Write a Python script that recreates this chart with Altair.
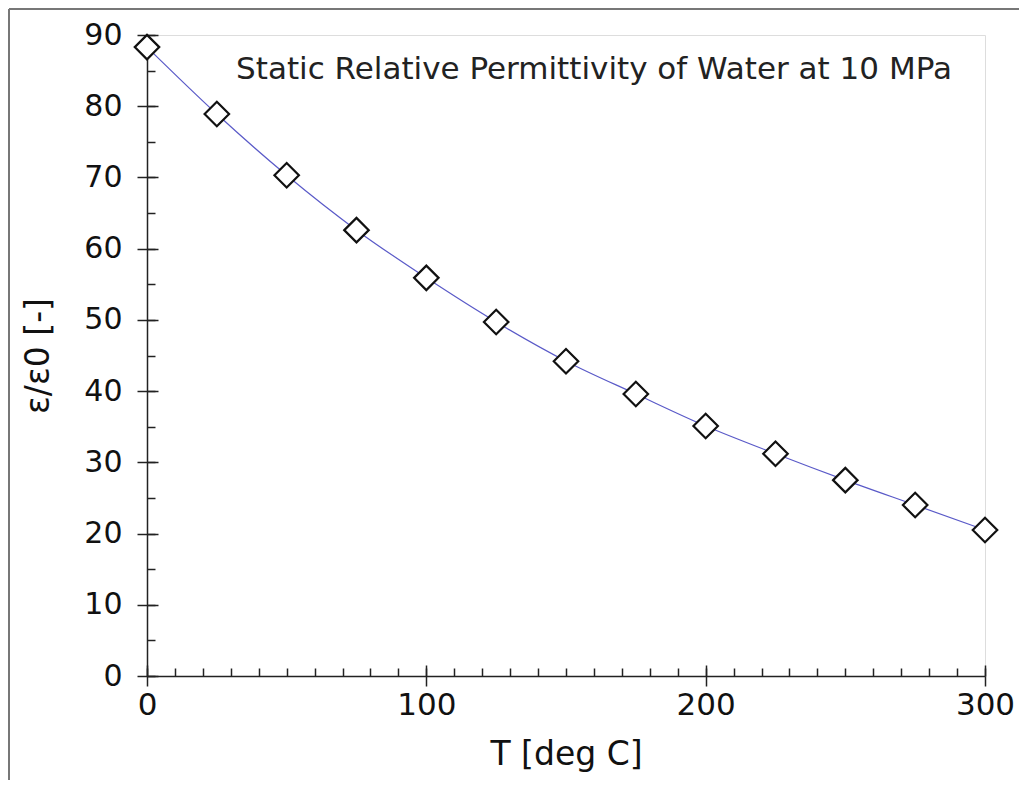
import altair as alt
import pandas as pd

temps = [0, 25, 50, 75, 100, 125, 150, 175, 200, 225, 250, 275, 300]
perm = [88.3, 78.9, 70.3, 62.6, 55.9, 49.7, 44.2, 39.6, 35.1, 31.2, 27.5, 24.0, 20.5]
x_major = [0, 100, 200, 300]
x_minor = list(range(0, 301, 10))
y_major = list(range(0, 91, 10))
y_minor = list(range(0, 91, 5))
title_text = "Static Relative Permittivity of Water at 10 MPa"

df = pd.DataFrame({"T": temps, "eps": perm})
FONT = "DejaVu Sans"
W, H = 838, 641

xs = alt.Scale(domain=[0, 300], nice=False, zero=False)
ys = alt.Scale(domain=[0, 90], nice=False)

base = alt.Chart(df)

line = base.mark_line(color="#5a5ac8", strokeWidth=1.2, interpolate="monotone", clip=False).encode(
    x=alt.X("T:Q", scale=xs, axis=alt.Axis(
        orient="bottom",
        values=x_major, tickSize=10, tickWidth=1.5, tickColor="#222", domainColor="#222",
        domainWidth=1.5, labelFont=FONT, labelFontSize=31, labelColor="#111", labelPadding=4,
        title="T [deg C]", titleFont=FONT, titleFontSize=33, titleFontWeight="normal",
        titleColor="#111", titlePadding=18, grid=False, labelFlush=False)),
    y=alt.Y("eps:Q", scale=ys, axis=alt.Axis(
        orient="left",
        values=y_major, tickSize=10, tickWidth=1.5, tickColor="#222", domainColor="#222",
        domainWidth=1.5, labelFont=FONT, labelFontSize=30, labelColor="#111", labelPadding=15,
        title="ε/ε0 [-]", titleFont=FONT, titleFontSize=33, titleFontWeight="normal",
        titleColor="#111", titlePadding=28, grid=False, labelFlush=False)),
)

pts = base.mark_point(shape="diamond", size=600, filled=True, fill="white", stroke="#111",
                      strokeWidth=2.2, opacity=1, clip=False).encode(
    x=alt.X("T:Q", scale=xs, axis=None),
    y=alt.Y("eps:Q", scale=ys, axis=None),
)

minor = base.mark_point(opacity=0).encode(
    x=alt.X("T:Q", scale=xs, axis=alt.Axis(
        orient="bottom",
        values=x_minor, offset=-8, tickSize=8, tickWidth=1.5, tickColor="#222",
        domain=False, labels=False, title=None, grid=False)),
    y=alt.Y("eps:Q", scale=ys, axis=alt.Axis(
        orient="left",
        values=y_minor, offset=-8, tickSize=8, tickWidth=1.5, tickColor="#222",
        domain=False, labels=False, title=None, grid=False)),
)

major_in = base.mark_point(opacity=0).encode(
    x=alt.X("T:Q", scale=xs, axis=alt.Axis(
        orient="bottom",
        values=x_major, offset=-11, tickSize=11, tickWidth=1.5, tickColor="#222",
        domain=False, labels=False, title=None, grid=False)),
    y=alt.Y("eps:Q", scale=ys, axis=alt.Axis(
        orient="left",
        values=y_major, offset=-11, tickSize=11, tickWidth=1.5, tickColor="#222",
        domain=False, labels=False, title=None, grid=False)),
)

title_df = pd.DataFrame({"t": [title_text]})
title = alt.Chart(title_df).mark_text(font=FONT, fontSize=31, color="#222", align="center",
                                      baseline="middle").encode(
    text="t:N", x=alt.value(447), y=alt.value(35))

# screenshot frame (decoration)
frame_df = pd.DataFrame({"k": [0]})
frame_top = alt.Chart(frame_df).mark_rule(color="#777", strokeWidth=2, clip=False).encode(
    x=alt.value(-138), x2=alt.value(890), y=alt.value(-26))
frame_left = alt.Chart(frame_df).mark_rule(color="#777", strokeWidth=2, clip=False).encode(
    x=alt.value(-138), y=alt.value(-26), y2=alt.value(760))

chart = alt.layer(frame_top, frame_left, minor, major_in, line, pts, title).resolve_axis(
    x="independent", y="independent").properties(
    width=W, height=H,
    autosize=alt.AutoSizeParams(type="none"),
    padding={"left": 139, "top": 27, "right": 34, "bottom": 104},
).configure_view(stroke="#8a8a8a", strokeWidth=1.5).configure(background="white")

chart.save("out.html", embed_options={"renderer": "svg", "actions": False})
